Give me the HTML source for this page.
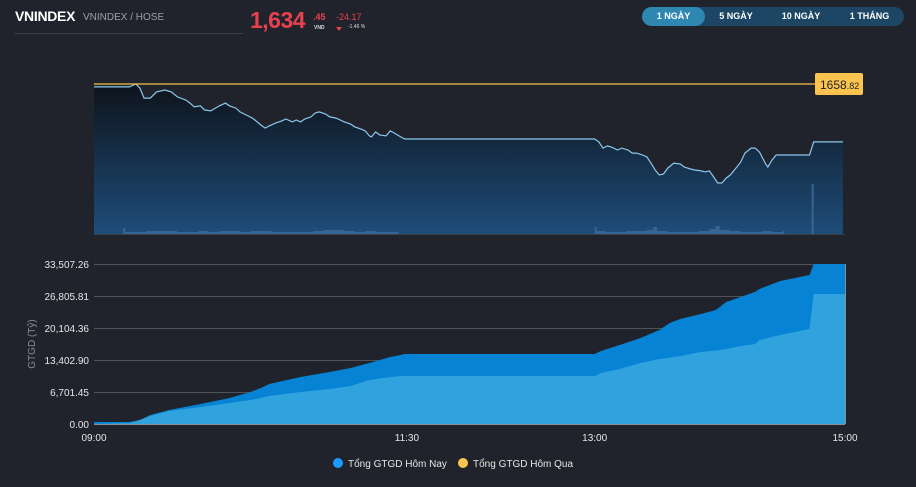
<!DOCTYPE html>
<html><head><meta charset="utf-8">
<style>
body{margin:0;background:#20232b;width:916px;height:487px;overflow:hidden;font-family:"Liberation Sans",sans-serif;position:relative}
.abs{position:absolute}
.btn{position:absolute;top:7px;height:19px;line-height:19px;font-size:9px;font-weight:bold;color:#fff;text-align:center;border-radius:10px}
</style></head><body>
<div class="abs" style="left:15px;top:8px;font-size:14px;font-weight:bold;color:#fff;letter-spacing:-0.3px">VNINDEX</div>
<div class="abs" style="left:83px;top:12px;font-size:10px;color:#9aa0a8">VNINDEX / HOSE</div>
<div class="abs" style="left:14px;top:33px;width:229px;height:1px;background:#3a3e46"></div>
<div class="abs" style="left:250px;top:7px;font-size:23px;font-weight:bold;color:#e8414e;letter-spacing:-0.5px">1,634</div>
<div class="abs" style="left:313px;top:12px;font-size:9px;font-weight:bold;color:#e8414e">.45</div>
<div class="abs" style="left:314px;top:25px;font-size:5px;font-weight:bold;color:#ddd">VND</div>
<div class="abs" style="left:336px;top:12px;font-size:9px;color:#e8414e">-24.17</div>
<div class="abs" style="left:336px;top:27px;width:0;height:0;border-left:3px solid transparent;border-right:3px solid transparent;border-top:4px solid #e8414e"></div>
<div class="abs" style="left:348px;top:24px;font-size:5px;color:#ddd">-1.46 %</div>
<div class="abs" style="left:642px;top:7px;width:262px;height:19px;background:#1c4663;border-radius:10px"></div>
<div class="btn" style="left:642px;width:63px;background:#2e87b0">1 NGÀY</div>
<div class="btn" style="left:705px;width:62px">5 NGÀY</div>
<div class="btn" style="left:767px;width:68px">10 NGÀY</div>
<div class="btn" style="left:835px;width:69px">1 THÁNG</div>

<svg id="chart" class="abs" style="left:0;top:0" width="916" height="487">
<defs><linearGradient id="g" x1="0" y1="0" x2="0" y2="1"><stop offset="0" stop-color="#0e131b"/><stop offset="1" stop-color="#1e4d7a"/></linearGradient></defs>
</svg>
<script>
// price line (minutes from 09:00, index value)
const priceTimes=[0,17,19,20,22,24,27,30,34,37,40,44,46,48,51,53,56,60,63,65,68,70,72,76,80,82,84,87,90,92,95,97,99,101,104,106,108,111,113,116,118,120,123,125,128,130,132,133,135,137,140,142,144,147,149,240,242,244,246,248,251,253,256,258,260,263,265,267,269,271,273,275,278,281,283,286,288,291,293,295,297,299,301,303,305,307,310,312,315,317,319,322,323,325,327,343,345,359];
const priceValues=[1657.6,1657.6,1658.4,1658.8,1657.1,1652.9,1652.9,1655.5,1656.3,1655.5,1653.4,1652.1,1650.8,1649.2,1649.6,1647.9,1647.5,1649.6,1650.8,1649.6,1648.7,1647.1,1646.2,1644.5,1641.6,1640.3,1641.2,1642.4,1643.3,1644.1,1642.9,1643.7,1642.9,1644.1,1645.0,1646.6,1647.1,1646.2,1645.0,1644.5,1643.7,1642.9,1642.0,1640.8,1639.9,1639.1,1637.0,1636.6,1638.7,1637.4,1637.0,1639.1,1638.2,1636.6,1635.7,1635.7,1634.5,1631.9,1632.8,1632.3,1631.1,1631.9,1631.1,1629.8,1629.8,1629.0,1628.2,1625.6,1622.7,1620.6,1621.0,1623.5,1625.6,1625.2,1623.9,1623.1,1622.7,1622.3,1621.9,1622.3,1619.8,1617.2,1617.2,1619.3,1620.6,1622.7,1626.0,1629.8,1631.9,1631.9,1630.2,1625.2,1623.9,1626.9,1629.0,1629.0,1634.5,1634.5];
const refValue=1658.82;
const volTimes=[14,15,20,25,30,35,40,45,50,55,60,65,70,75,80,85,90,95,100,105,110,115,120,125,130,135,140,145,240,241,245,250,255,260,265,268,270,275,280,285,290,295,298,300,305,310,315,320,325,330,344];
const volValues=[6,2,2,3,3,3,2,2,3,2,3,3,2,3,3,2,2,2,2,3,4,4,3,2,3,2,2,2,7,3,2,2,3,3,4,7,3,2,2,2,3,5,8,4,3,2,2,3,2,3,50];
// trade value (Tỷ)
const tvTimes=[0,17,22,27,36,51,65,75,80,84,99,113,123,132,142,147,149,240,243,252,262,271,276,281,291,298,300,303,310,317,319,329,343,345,360];
const todayValues=[419,419,838,1885,2931,4188,5444,6701,7538,8376,9842,10889,11726,12773,14030,14449,14658,14658,15286,16543,18008,19684,21149,21987,23034,23872,24500,25547,26594,27700,28269,29944,31201,33507,33507];
const lowerValues=[0,209,838,1675,2722,3560,4397,5026,5440,5863,6701,7329,7957,9214,9842,10051,10051,10051,10679,11517,12773,13611,13900,14239,15077,15400,15496,15700,16333,16752,17590,18637,19893,27222,27222];
const yTicks=[0,6701.45,13402.90,20104.36,26805.81,33507.26];
const xTickLabels=["09:00","11:30","13:00","15:00"];
const xTickMinutes=[0,150,240,360];

const NS="http://www.w3.org/2000/svg";
const svg=document.getElementById('chart');
const X0=94,X1=845;
const xs=m=>X0+(X1-X0)*m/360;
const py=v=>84+(refValue-v)/0.4202;
const vy=v=>234-v;
const ly=v=>424-v/33507.26*160;
function mk(tag,attrs,parent){const e=document.createElementNS(NS,tag);for(const k in attrs)e.setAttribute(k,attrs[k]);(parent||svg).appendChild(e);return e;}

// price area
let d='M'+xs(priceTimes[0])+',234';
priceTimes.forEach((t,i)=>d+=' L'+xs(t).toFixed(1)+','+py(priceValues[i]).toFixed(1));
d+=' L'+xs(priceTimes[priceTimes.length-1])+',234Z';
let e=mk('path',{d:d,fill:'url(#g)'});


volTimes.forEach((t,i)=>{
  const nt=i<volTimes.length-1?volTimes[i+1]:t+1;
  const w=(nt-t<=6)?xs(nt)-xs(t):2;
  const b=mk('rect',{x:xs(t),y:vy(volValues[i]),width:w,height:volValues[i],fill:'#3a6a98',opacity:0.85});
  
  
});
e=mk('polyline',{points:priceTimes.map((t,i)=>xs(t).toFixed(1)+','+py(priceValues[i]).toFixed(1)).join(' '),fill:'none',stroke:'#8cc8ec','stroke-width':1.2});


e=mk('line',{x1:94,x2:815,y1:py(refValue),y2:py(refValue),stroke:'#f7c04a','stroke-width':1.2});


e=mk('rect',{x:815,y:73,width:48,height:22,rx:2,fill:'#fcc34f'});


e=mk('text',{x:820,y:89,'font-size':12,fill:'#222','font-family':'Liberation Sans'});
e.innerHTML='1658<tspan font-size="9">.82</tspan>';


mk('line',{x1:94,x2:845,y1:234.5,y2:234.5,stroke:'#3a3e46'});

// lower chart
yTicks.forEach((v,i)=>{
  if(i>0){const g=mk('line',{x1:94,x2:845,y1:Math.round(ly(v))+0.5,y2:Math.round(ly(v))+0.5,stroke:'#4f535b','stroke-width':1});
  
  }
  const t=mk('text',{x:89,y:ly(v)+4,'text-anchor':'end','font-size':10,fill:'#e6e6e6','font-family':'Liberation Sans'});
  t.textContent=v.toLocaleString('en-US',{minimumFractionDigits:2,maximumFractionDigits:2});
  
  
});
function area(vals,fill,name){
  let p='M'+xs(tvTimes[0])+','+ly(0);
  tvTimes.forEach((t,i)=>p+=' L'+xs(t).toFixed(1)+','+ly(vals[i]).toFixed(1));
  p+=' L'+xs(360)+','+ly(0)+'Z';
  const a=mk('path',{d:p,fill:fill});
  
  
}
area(todayValues,'#0683d4','today-value-area');
area(lowerValues,'#30a2dd','yesterday-value-area');
mk('line',{x1:94,x2:845,y1:424.5,y2:424.5,stroke:'#8a8d93'});
mk('line',{x1:845.5,x2:845.5,y1:264,y2:424,stroke:'#8a8d93'});
xTickLabels.forEach((l,i)=>{
  const t=mk('text',{x:xs(xTickMinutes[i]),y:441,'text-anchor':'middle','font-size':10,fill:'#e6e6e6','font-family':'Liberation Sans'});
  t.textContent=l;
  
  
});
e=mk('text',{x:35,y:344,'text-anchor':'middle','font-size':10,fill:'#8a8d93','font-family':'Liberation Sans',transform:'rotate(-90 35 344)'});
e.textContent='GTGD (Tỷ)';


</script>
<div class="abs" style="left:333px;top:458px;font-size:10px;color:#e6e6e6;line-height:12px"><span style="display:inline-block;width:10px;height:10px;border-radius:50%;background:#1a9bff;vertical-align:-1px;margin-right:5px"></span>Tổng GTGD Hôm Nay</div>
<div class="abs" style="left:458px;top:458px;font-size:10px;color:#e6e6e6;line-height:12px"><span style="display:inline-block;width:10px;height:10px;border-radius:50%;background:#fcc34f;vertical-align:-1px;margin-right:5px"></span>Tổng GTGD Hôm Qua</div>
</body></html>
